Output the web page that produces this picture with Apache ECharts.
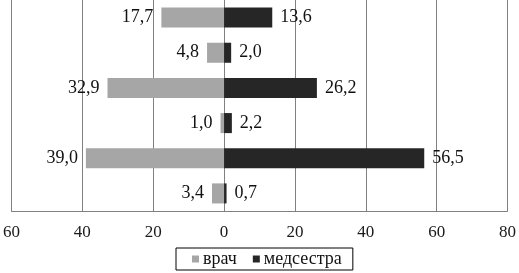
<!DOCTYPE html>
<html><head><meta charset="utf-8">
<script src="https://cdn.jsdelivr.net/npm/echarts@6/dist/echarts.min.js"></script>
<style>html,body{margin:0;padding:0;background:#fff}#c{width:519px;height:273px}</style>
</head><body><div id="c"></div>
<script>
var categories = ['1','2','3','4','5','6'];
var doctor = [17.7, 4.8, 32.9, 1.0, 39.0, 3.4];
var nurse = [13.6, 2.0, 26.2, 2.2, 56.5, 0.7];
var seriesNames = ['врач', 'медсестра'];
var xTicks = [-60, -40, -20, 0, 20, 40, 60, 80];

var fmt = function(v){ return Math.abs(v).toFixed(1).replace('.', ','); };
var font = 'Liberation Serif';
var chart = echarts.init(document.getElementById('c'));
chart.setOption({
  animation: false,
  textStyle: {fontFamily: font},
  grid: {left: 7, right: 7, top: 0, bottom: 62, containLabel: false},
  legend: {
    data: seriesNames, left: 176, top: 248, itemWidth: 7, itemHeight: 7, itemGap: 16,
    padding: [2, 11, 2, 16], borderColor: '#000', borderWidth: 1, icon: 'rect',
    textStyle: {fontFamily: font, fontSize: 18, color: '#111', padding: [0,0,0,-1]}
  },
  xAxis: {
    type: 'value', min: xTicks[0], max: xTicks[xTicks.length-1], interval: 20,
    axisLine: {show: true, onZero: false, lineStyle: {color: '#808080', width: 1}},
    axisTick: {show: false},
    splitLine: {show: true, lineStyle: {color: '#808080', width: 1}},
    axisLabel: {formatter: function(v){return String(Math.abs(v));}, fontFamily: font, fontSize: 17, color: '#1a1a1a', margin: 13}
  },
  yAxis: {
    type: 'category', data: categories, inverse: true,
    axisLine: {show: false}, axisTick: {show: false}, axisLabel: {show: false}
  },
  series: [
    {name: seriesNames[0], type: 'bar', stack: 'a', barWidth: '57%',
     data: doctor.map(function(v){return -v;}),
     itemStyle: {color: '#a6a6a6'},
     label: {show: true, position: 'left', distance: 8, formatter: function(p){return fmt(p.value);}, fontFamily: font, fontSize: 18, color: '#111'}},
    {name: seriesNames[1], type: 'bar', stack: 'a', barWidth: '57%',
     data: nurse,
     itemStyle: {color: '#262626'},
     label: {show: true, position: 'right', distance: 8, formatter: function(p){return fmt(p.value);}, fontFamily: font, fontSize: 18, color: '#111'}}
  ]
});
</script></body></html>
